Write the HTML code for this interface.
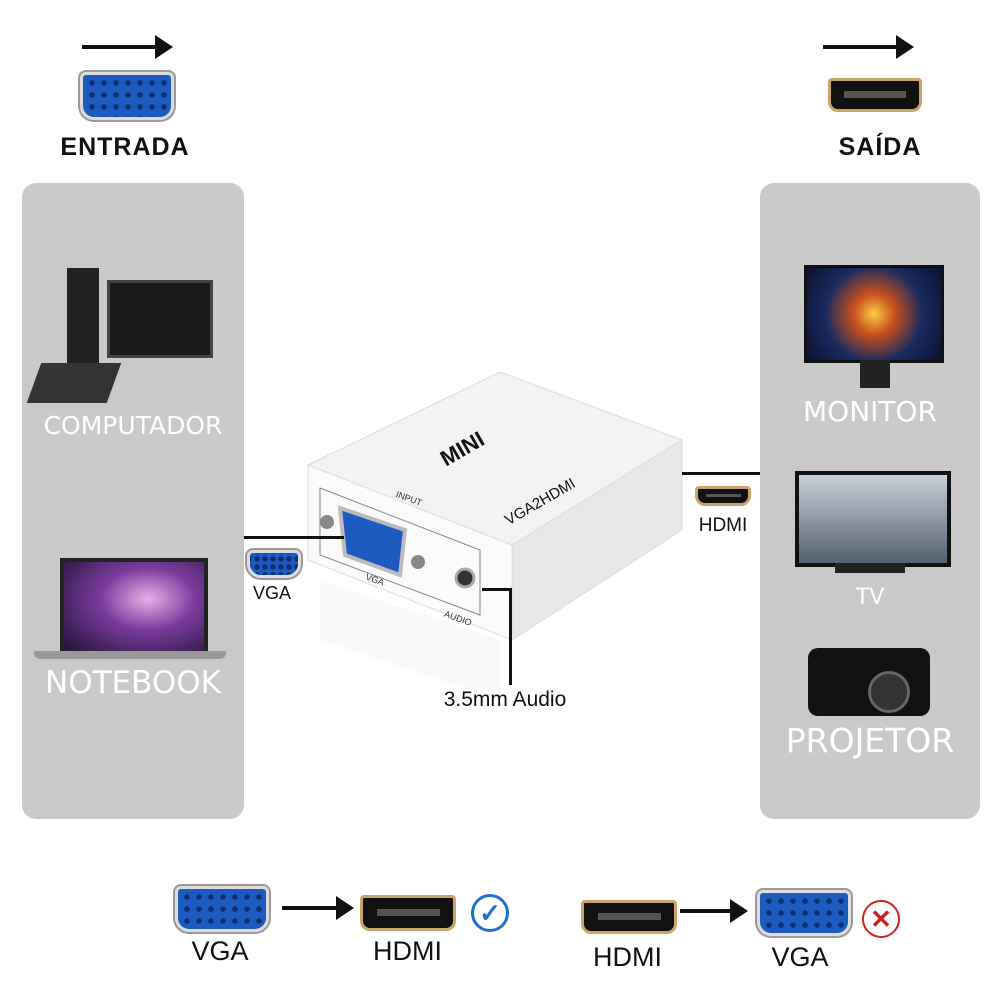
<!DOCTYPE html>
<html><head><meta charset="utf-8"><style>
body{margin:0;width:1000px;height:1000px;background:#fff;position:relative;overflow:hidden;font-family:"Liberation Sans",sans-serif}
.a{position:absolute}
.panel{position:absolute;background:#c9c9c9;border-radius:14px}
.wt{position:absolute;color:#fff;width:100%;text-align:center;font-family:"DejaVu Sans","Liberation Sans",sans-serif}
.t{position:absolute;color:#111;text-align:center}
.vga{position:absolute;background:#1e5bc0;border:3px solid #ddd;border-radius:6px 6px 14px 14px;box-shadow:0 0 0 2px #999;background-image:radial-gradient(circle,#0d2f70 2.5px,transparent 3px);background-size:12px 12px;background-position:3px 2px}
.hdmi{position:absolute;background:#111;border:3px solid #c9a56a;border-radius:4px 4px 10px 10px}
.hdmi:after{content:"";position:absolute;left:15%;right:15%;top:35%;height:25%;background:#555}
.arrow{position:absolute;height:4px;background:#111}
.arrow:after{content:"";position:absolute;right:-6px;top:-10px;border-left:18px solid #111;border-top:12px solid transparent;border-bottom:12px solid transparent}
.ln{position:absolute;background:#111}
</style></head><body>
<div class="arrow" style="left:82px;top:45px;width:85px"></div>
<div class="vga" style="left:80px;top:72px;width:88px;height:42px"></div>
<div class="t" style="left:40px;top:133px;width:170px;font-size:25px;font-weight:bold;letter-spacing:1px">ENTRADA</div>
<div class="arrow" style="left:823px;top:45px;width:85px"></div>
<div class="hdmi" style="left:828px;top:78px;width:88px;height:28px"></div>
<div class="t" style="left:810px;top:133px;width:140px;font-size:25px;font-weight:bold;letter-spacing:1px">SAÍDA</div>

<div class="panel" style="left:22px;top:183px;width:222px;height:636px">
 <div class="a" style="left:45px;top:85px;width:32px;height:112px;background:#222"></div>
 <div class="a" style="left:85px;top:97px;width:100px;height:72px;background:#1a1a1a;border:3px solid #444"></div>
 <div class="a" style="left:12px;top:180px;width:80px;height:40px;background:#333;transform:skewX(-20deg)"></div>
 <div class="wt" style="top:228px;font-size:25px">COMPUTADOR</div>
 <div class="a" style="left:38px;top:375px;width:140px;height:92px;background:radial-gradient(ellipse at 60% 40%,#e6b0e8,#7a3b9c 40%,#1b1030);border:4px solid #222"></div>
 <div class="a" style="left:12px;top:468px;width:192px;height:8px;background:#999;border-radius:0 0 6px 6px"></div>
 <div class="wt" style="top:482px;font-size:31px">NOTEBOOK</div>
</div>

<div class="panel" style="left:760px;top:183px;width:220px;height:636px">
 <div class="a" style="left:44px;top:82px;width:134px;height:92px;background:radial-gradient(circle at 50% 50%,#ffcc44,#c8501e 25%,#1a2a60 60%,#0b1030);border:3px solid #111"></div>
 <div class="a" style="left:100px;top:177px;width:30px;height:28px;background:#222"></div>
 <div class="wt" style="top:212px;font-size:28px">MONITOR</div>
 <div class="a" style="left:35px;top:288px;width:148px;height:88px;background:linear-gradient(#c8d0d8,#556070);border:4px solid #111"></div>
 <div class="a" style="left:75px;top:380px;width:70px;height:10px;background:#222"></div>
 <div class="wt" style="top:402px;font-size:22px">TV</div>
 <div class="a" style="left:48px;top:465px;width:122px;height:68px;background:#111;border-radius:10px"></div>
 <div class="a" style="left:108px;top:488px;width:36px;height:36px;background:#333;border-radius:50%;border:3px solid #666"></div>
 <div class="wt" style="top:538px;font-size:33px">PROJETOR</div>
</div>

<svg class="a" style="left:0;top:0" width="1000" height="1000">
 <polygon points="308,465 500,372 682,440 512,545" fill="#f3f3f3" stroke="#ddd"/>
 <polygon points="308,465 512,545 512,640 308,560" fill="#fafafa" stroke="#ddd"/>
 <polygon points="512,545 682,440 682,530 512,640" fill="#e8e8e8" stroke="#ddd"/>
 <polygon points="320,488 480,550 480,615 320,555" fill="none" stroke="#888"/>
 <polygon points="340,508 405,530 400,575 345,555" fill="#1e5bc0" stroke="#bbb" stroke-width="4"/>
 <circle cx="327" cy="522" r="7" fill="#888"/><circle cx="418" cy="562" r="7" fill="#888"/>
 <circle cx="465" cy="578" r="9" fill="#333" stroke="#aaa" stroke-width="3"/>
 <text x="440" y="455" font-size="22" font-weight="bold" fill="#111" transform="rotate(-30 465 450)">MINI</text>
 <text x="495" y="505" font-size="15" fill="#111" transform="rotate(-30 540 490)">VGA2HDMI</text>
 <text x="395" y="502" font-size="9" fill="#333" transform="rotate(20 410 500)">INPUT</text>
 <text x="365" y="581" font-size="9" fill="#333" transform="rotate(20 370 580)">VGA</text>
 <text x="444" y="622" font-size="9" fill="#333" transform="rotate(20 460 618)">AUDIO</text>
 <polygon points="320,580 500,640 500,700 320,640" fill="#f4f4f4" opacity="0.6"/>
</svg>
<div class="ln" style="left:244px;top:536px;width:100px;height:3px"></div>
<div class="vga" style="left:247px;top:550px;width:48px;height:22px;background-size:8px 8px"></div>
<div class="t" style="left:240px;top:583px;width:64px;font-size:18px">VGA</div>
<div class="ln" style="left:682px;top:472px;width:78px;height:3px"></div>
<div class="hdmi" style="left:695px;top:486px;width:50px;height:14px"></div>
<div class="t" style="left:685px;top:515px;width:76px;font-size:19px">HDMI</div>
<div class="ln" style="left:482px;top:588px;width:30px;height:3px"></div>
<div class="ln" style="left:509px;top:588px;width:3px;height:97px"></div>
<div class="t" style="left:420px;top:688px;width:170px;font-size:21px">3.5mm Audio</div>

<div class="vga" style="left:175px;top:886px;width:88px;height:40px"></div>
<div class="arrow" style="left:282px;top:906px;width:66px"></div>
<div class="hdmi" style="left:360px;top:895px;width:90px;height:30px"></div>
<div class="a" style="left:471px;top:894px;width:32px;height:32px;border:3px solid #1e6fd0;border-radius:50%;color:#1e6fd0;font-size:26px;line-height:32px;text-align:center;font-weight:bold">✓</div>
<div class="t" style="left:180px;top:936px;width:80px;font-size:27px">VGA</div>
<div class="t" style="left:360px;top:936px;width:95px;font-size:27px">HDMI</div>
<div class="hdmi" style="left:581px;top:900px;width:90px;height:28px"></div>
<div class="arrow" style="left:680px;top:909px;width:62px"></div>
<div class="vga" style="left:757px;top:890px;width:88px;height:40px"></div>
<div class="a" style="left:862px;top:900px;width:34px;height:34px;border:2px solid #c22;border-radius:50%;color:#c22;font-size:26px;line-height:34px;text-align:center;font-weight:bold">✕</div>
<div class="t" style="left:580px;top:942px;width:95px;font-size:27px">HDMI</div>
<div class="t" style="left:760px;top:942px;width:80px;font-size:27px">VGA</div>
</body></html>
